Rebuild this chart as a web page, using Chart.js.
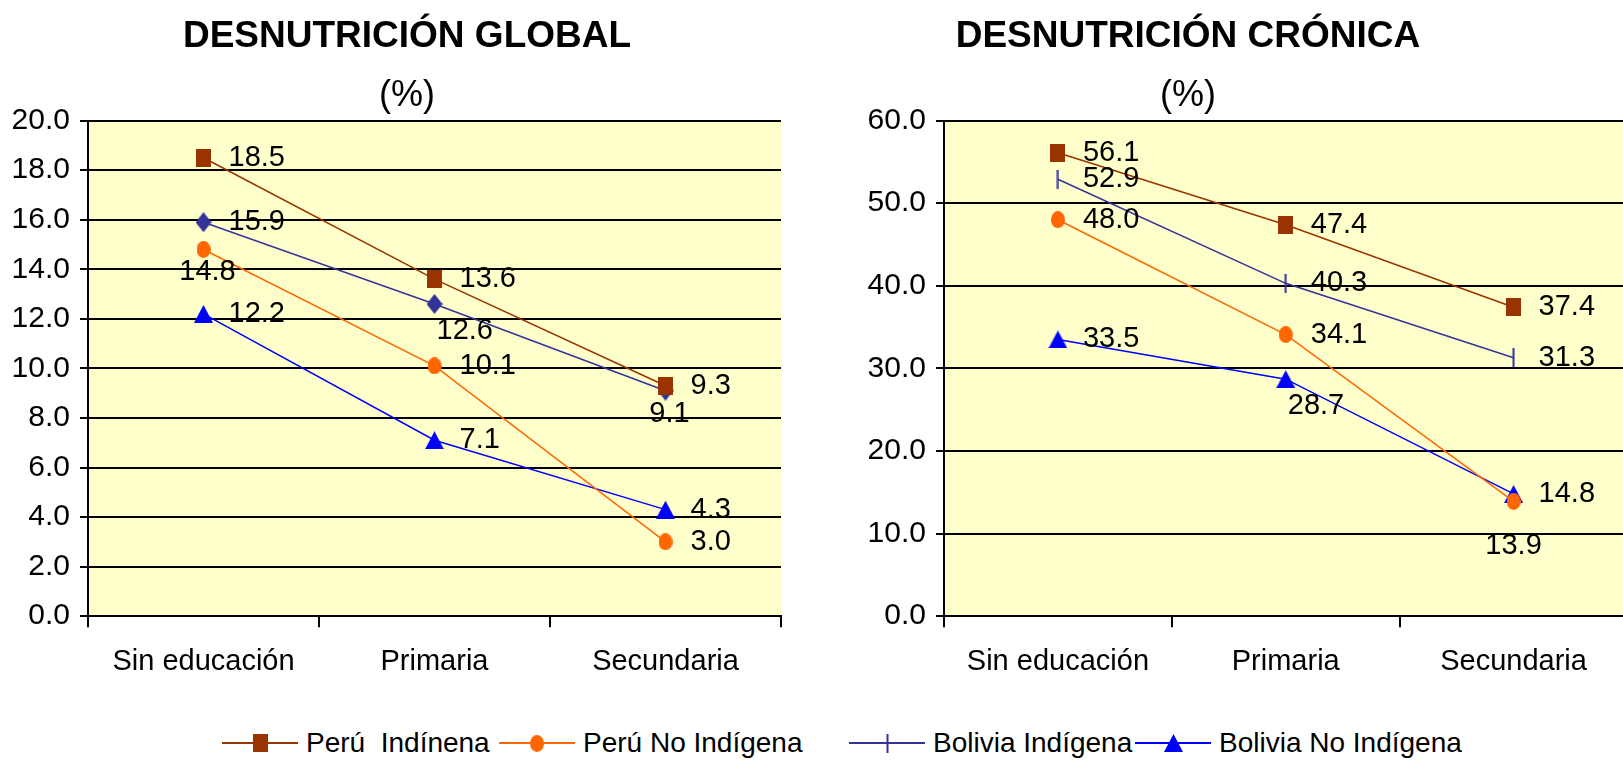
<!DOCTYPE html>
<html>
<head>
<meta charset="utf-8">
<title>Desnutrición global y crónica</title>
<script src="https://cdn.jsdelivr.net/npm/chart.js@4.4.1/dist/chart.umd.min.js"></script>
<style>
    html, body { margin: 0; padding: 0; background: #fff; overflow: hidden; }
    body { width: 1623px; height: 761px; position: relative; }
    #globalChart { position: absolute; left: 0; top: 0; }
    #cronicaChart { position: absolute; left: 739px; top: 0; }
    #legend { position: absolute; left: 0; top: 725px; width: 1623px; height: 36px;
              font-family: 'Liberation Sans', Arial, sans-serif; font-size: 28px; color: #000; }
    .legend-item { position: absolute; top: 0; height: 36px; display: flex; align-items: center; white-space: pre; }
    .legend-item canvas { margin-right: 8px; }
</style>
</head>
<body>
<canvas id="globalChart" width="814" height="696"></canvas>
<canvas id="cronicaChart" width="898" height="696"></canvas>
<div id="legend"></div>
<script>
const FONT = "'Liberation Sans', Arial, sans-serif";

// Data
const categories = ['Sin educación', 'Primaria', 'Secundaria'];
const seriesNames = ['Perú  Indínena', 'Perú No Indígena', 'Bolivia Indígena', 'Bolivia No Indígena'];

const globalPeruInd = [18.5, 13.6, 9.3];
const globalPeruNoInd = [14.8, 10.1, 3.0];
const globalBoliviaInd = [15.9, 12.6, 9.1];
const globalBoliviaNoInd = [12.2, 7.1, 4.3];

const cronicaPeruInd = [56.1, 47.4, 37.4];
const cronicaPeruNoInd = [48.0, 34.1, 13.9];
const cronicaBoliviaInd = [52.9, 40.3, 31.3];
const cronicaBoliviaNoInd = [33.5, 28.7, 14.8];

// Styles
const seriesColors = ['#993300', '#FF6600', '#333399', '#0000FF'];
// where each value label sits: r = right, b = below, bb = further below, br = below to the right
const globalLabelPos = [['r', 'r', 'r'], ['b', 'r', 'r'], ['r', 'br', 'b'], ['r', 'r', 'r']];
const cronicaLabelPos = [['r', 'r', 'r'], ['r', 'r', 'bb'], ['r', 'r', 'r'], ['r', 'br', 'r']];
const legendLeft = [222, 499, 849, 1135];

// The original markers are a little taller than wide, so draw them as small images
function makeMarker(shape, color) {
    const sizes = { square: [15, 18], circle: [14, 17], diamond: [16, 20], triangle: [19, 18], tick: [3, 19] };
    const [w, h] = sizes[shape];
    const cv = document.createElement('canvas');
    cv.width = w;
    cv.height = h;
    const c = cv.getContext('2d');
    c.fillStyle = color;
    c.strokeStyle = color;
    c.beginPath();
    if (shape === 'square') {
        c.fillRect(0, 0, w, h);
    } else if (shape === 'circle') {
        c.ellipse(w / 2, h / 2, w / 2, h / 2, 0, 0, Math.PI * 2);
        c.fill();
    } else if (shape === 'diamond') {
        c.moveTo(w / 2, 0);
        c.lineTo(w, h / 2);
        c.lineTo(w / 2, h);
        c.lineTo(0, h / 2);
        c.closePath();
        c.fill();
    } else if (shape === 'triangle') {
        c.moveTo(w / 2, 0);
        c.lineTo(w, h);
        c.lineTo(0, h);
        c.closePath();
        c.fill();
    } else {
        c.fillRect(0.5, 0, 2, h);
    }
    return cv;
}

const plotBackground = {
    id: 'plotBackground',
    beforeDraw(chart) {
        const a = chart.chartArea;
        const ctx = chart.ctx;
        ctx.save();
        ctx.fillStyle = '#FFFFCC';
        ctx.fillRect(a.left, a.top, a.right - a.left, a.bottom - a.top);
        ctx.restore();
    }
};

function makeValueLabels(positions) {
    return {
        id: 'valueLabels',
        afterDatasetsDraw(chart) {
            const ctx = chart.ctx;
            ctx.save();
            ctx.font = '29px ' + FONT;
            ctx.fillStyle = '#000';
            ctx.textBaseline = 'middle';
            chart.data.datasets.forEach((ds, i) => {
                chart.getDatasetMeta(i).data.forEach((pt, j) => {
                    const pos = positions[i][j];
                    let x = pt.x, y = pt.y;
                    if (pos === 'r') { ctx.textAlign = 'left'; x += 25; }
                    else if (pos === 'b') { ctx.textAlign = 'center'; x += 4; y += 23; }
                    else if (pos === 'bb') { ctx.textAlign = 'center'; y += 45; }
                    else { ctx.textAlign = 'left'; x += 2; y += 27; }
                    ctx.fillText(ds.data[j].toFixed(1), x, y);
                });
            });
            ctx.restore();
        }
    };
}

function makeDataset(label, data, color, marker) {
    return {
        label: label,
        data: data,
        borderColor: color,
        backgroundColor: color,
        borderWidth: 1.5,
        pointStyle: makeMarker(marker, color),
        pointRadius: 8,
        tension: 0,
        fill: false
    };
}

function createChart(canvasId, title, datasets, yMax, yStep, yAxisWidth, rightGap, labelPos) {
    const chart = document.getElementById(canvasId);
    return new Chart(chart, {
        type: 'line',
        data: {
            labels: categories,
            datasets: datasets
        },
        options: {
            responsive: false,
            animation: false,
            layout: { padding: 0 },
            scales: {
                x: {
                    offset: true,
                    grid: {
                        offset: true,
                        drawOnChartArea: true,
                        color: (c) => c.index === categories.length ? '#000' : 'rgba(0,0,0,0)',
                        tickColor: '#000',
                        lineWidth: 2,
                        tickLength: 11
                    },
                    border: { color: '#000', width: 2 },
                    ticks: {
                        color: '#000',
                        font: { family: FONT, size: 29 },
                        padding: 17,
                        maxRotation: 0
                    }
                },
                y: {
                    min: 0,
                    max: yMax,
                    afterFit: (scale) => { scale.width = yAxisWidth; },
                    grid: { color: '#000', tickColor: '#000', lineWidth: 2, tickLength: 8 },
                    border: { color: '#000', width: 2 },
                    ticks: {
                        stepSize: yStep,
                        color: '#000',
                        font: { family: FONT, size: 30 },
                        padding: 10,
                        callback: (v) => v.toFixed(1)
                    }
                },
                // empty strip on the right so the plot stops short of the canvas edge
                gap: {
                    type: 'linear',
                    position: 'right',
                    display: rightGap > 0,
                    grid: { display: false },
                    border: { display: false },
                    ticks: { display: false },
                    afterFit: (scale) => { scale.width = rightGap; }
                }
            },
            plugins: {
                legend: { display: false },
                tooltip: { enabled: false },
                title: {
                    display: true,
                    text: title,
                    color: '#000',
                    font: { family: FONT, size: 37, weight: 'bold', lineHeight: 1.2 },
                    padding: { top: 15, bottom: 0 }
                },
                subtitle: {
                    display: true,
                    text: '(%)',
                    color: '#000',
                    font: { family: FONT, size: 36, weight: 'normal', lineHeight: 1.2 },
                    padding: { top: 15, bottom: 3 }
                }
            }
        },
        plugins: [plotBackground, makeValueLabels(labelPos)]
    });
}

createChart('globalChart', 'DESNUTRICIÓN GLOBAL', [
    makeDataset(seriesNames[0], globalPeruInd, seriesColors[0], 'square'),
    makeDataset(seriesNames[1], globalPeruNoInd, seriesColors[1], 'circle'),
    makeDataset(seriesNames[2], globalBoliviaInd, seriesColors[2], 'diamond'),
    makeDataset(seriesNames[3], globalBoliviaNoInd, seriesColors[3], 'triangle')
], 20, 2, 88, 33, globalLabelPos);

createChart('cronicaChart', 'DESNUTRICIÓN CRÓNICA', [
    makeDataset(seriesNames[0], cronicaPeruInd, seriesColors[0], 'square'),
    makeDataset(seriesNames[1], cronicaPeruNoInd, seriesColors[1], 'circle'),
    makeDataset(seriesNames[2], cronicaBoliviaInd, seriesColors[2], 'tick'),
    makeDataset(seriesNames[3], cronicaBoliviaNoInd, seriesColors[3], 'triangle')
], 60, 10, 205, 0, cronicaLabelPos);

// Shared legend under both charts: a line with the series marker, then the name
const legendMarkers = ['square', 'circle', 'tick', 'triangle'];
const legendBox = document.getElementById('legend');
seriesNames.forEach((name, i) => {
    const item = document.createElement('div');
    item.className = 'legend-item';
    item.style.left = legendLeft[i] + 'px';
    const cv = document.createElement('canvas');
    cv.width = 76;
    cv.height = 24;
    const c = cv.getContext('2d');
    c.strokeStyle = seriesColors[i];
    c.lineWidth = 2;
    c.beginPath();
    c.moveTo(0, 12);
    c.lineTo(76, 12);
    c.stroke();
    const m = makeMarker(legendMarkers[i], seriesColors[i]);
    c.drawImage(m, Math.round(38 - m.width / 2), Math.round(12 - m.height / 2));
    const text = document.createElement('span');
    text.textContent = name;
    item.appendChild(cv);
    item.appendChild(text);
    legendBox.appendChild(item);
});
</script>
</body>
</html>
